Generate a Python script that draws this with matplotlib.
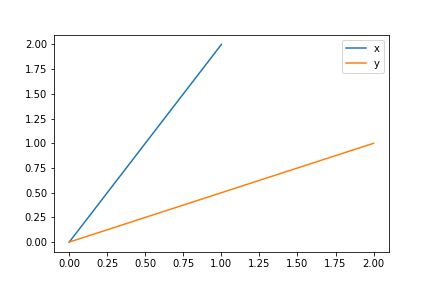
import matplotlib
matplotlib.use("Agg")
import matplotlib.pyplot as plt

# series "x"
x_series_xs = [0.0, 1.0]
x_series_ys = [0.0, 2.0]

# series "y"
y_series_xs = [0.0, 2.0]
y_series_ys = [0.0, 1.0]

labels = ["x", "y"]

fig, ax = plt.subplots(figsize=(6, 4), dpi=72)
fig.subplots_adjust(bottom=0.125)
ax.plot(x_series_xs, x_series_ys, label=labels[0])
ax.plot(y_series_xs, y_series_ys, label=labels[1])
ax.legend(loc="upper right")

fig.savefig("out.png")
